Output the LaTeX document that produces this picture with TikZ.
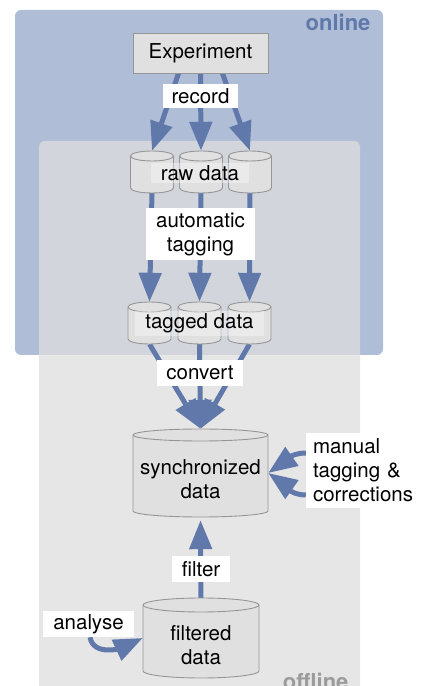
\documentclass[tikz,border=0pt]{standalone}
\usepackage{fontspec}
\setmainfont{TeX Gyre Heros}
\usetikzlibrary{arrows.meta,calc}
\pgfdeclarelayer{boxes}
\pgfdeclarelayer{arrowlayer}
\pgfdeclarelayer{cyllayer}
\pgfsetlayers{boxes,arrowlayer,cyllayer,main}

\definecolor{onlinefill}{RGB}{175,189,214}
\definecolor{offlinefill}{RGB}{222,222,222}
\definecolor{flowblue}{RGB}{96,121,170}
\definecolor{boxgray}{RGB}{224,224,224}
\definecolor{edgegray}{RGB}{150,150,150}
\definecolor{offlinetext}{RGB}{155,155,155}

\tikzset{
  txt/.style={font=\fontsize{20.5}{24}\selectfont},
  label/.style={txt, fill=white, inner sep=0pt, align=center},
  glasslabel/.style={txt, fill=white, fill opacity=0.35, text opacity=1, inner sep=0pt},
  flow/.style={draw=flowblue, line width=5pt,
    -{Triangle[width=22pt,length=29pt]}, color=flowblue},
  cylnode/.style={txt, inner sep=0pt, align=center},
  cylshape/.style={draw=edgegray, fill=boxgray, line width=0.9pt},
  areatitle/.style={font=\bfseries\fontsize{22}{26}\selectfont},
}

% cylinder: name, cx, cy, width, height, end radius, text
\newcommand\datacyl[7]{%
  \node[cylnode, minimum width=#4, minimum height=#5] (#1) at (#2,#3) {};
  \node[cylnode] (#1text) at (#2,{#3-#6}) {#7};
  \begin{pgfonlayer}{cyllayer}
    \filldraw[cylshape] ({#2-#4/2},{#3+#5/2-#6})
      -- ({#2-#4/2},{#3-#5/2+#6})
      arc[start angle=180,end angle=360,x radius={#4*0.5pt},y radius={#6*1pt}]
      -- ({#2+#4/2},{#3+#5/2-#6})
      arc[start angle=0,end angle=180,x radius={#4*0.5pt},y radius={#6*1pt}]
      -- cycle;
    \draw[cylshape, fill=none] ({#2-#4/2},{#3+#5/2-#6})
      arc[start angle=180,end angle=360,x radius={#4*0.5pt},y radius={#6*1pt}];
  \end{pgfonlayer}}

\begin{document}
\begin{tikzpicture}[x=1pt,y=1pt]
\useasboundingbox (0,0) rectangle (421,686);

% the two working areas
\begin{pgfonlayer}{boxes}
  \begin{scope}
    \clip (0,0) rectangle (421,686);
    \fill[onlinefill, rounded corners=6pt] (15,331) rectangle (383,676);
    \fill[offlinefill, fill opacity=0.76, rounded corners=6pt]
      (39,-20) rectangle (360,545);
    \node[areatitle, text=flowblue, anchor=base east] (onlinetitle) at (374,655) {online};
    \node[areatitle, text=offlinetext, anchor=base east] (offlinetitle) at (352,-3) {offline};
  \end{scope}
\end{pgfonlayer}

% sources and data stores
\node[txt, draw=edgegray, fill=boxgray, line width=0.9pt, minimum width=135,
      minimum height=40, inner sep=0pt] (exp) at (200.5,633) {Experiment};

\datacyl{r1}{152}{514}{43}{42}{5}{}
\datacyl{r2}{201}{514}{43}{42}{5}{}
\datacyl{r3}{250}{514}{43}{42}{5}{}

\datacyl{t1}{149.5}{363}{43}{42}{5}{}
\datacyl{t2}{199.5}{363}{43}{42}{5}{}
\datacyl{t3}{249.5}{363}{43}{42}{5}{}

\datacyl{sync}{200.5}{213}{135}{88}{6}{synchronized\\data}
\datacyl{filt}{201}{48}{116}{80}{7}{filtered\\data}

% flows
\begin{pgfonlayer}{arrowlayer}
  \draw[flow] ($(exp.south)+(-22,0)$) -- (r1.north);
  \draw[flow] (exp.south) -- (r2.north);
  \draw[flow] ($(exp.south)+(22,0)$) -- (r3.north);

  \draw[flow] (r1.south) -- (t1.north);
  \draw[flow] (r2.south) -- (t2.north);
  \draw[flow] (r3.south) -- (t3.north);

  \draw[flow] (t1.south) -- (sync.north);
  \draw[flow] (t2.south) -- (sync.north);
  \draw[flow] (t3.south) -- (sync.north);

  \draw[flow, shorten >=3pt] (filt.north) -- (sync.south);
\end{pgfonlayer}

% labels
\node[label, minimum width=75, minimum height=24] (record) at (200.5,590) {record};
\node[glasslabel, minimum width=98, minimum height=20] (rawlabel) at (200,513) {raw data};
\node[label, minimum width=109, minimum height=52] (auto) at (200.5,452) {automatic\\tagging};
\node[glasslabel, minimum width=129, minimum height=25] (taggedlabel) at (199.5,362.5) {tagged data};
\node[label, minimum width=86, minimum height=26] (convert) at (200,313) {convert};
\node[label, minimum width=58, minimum height=26] (filter) at (201,117) {filter};
\node[label, minimum width=91, minimum height=26] (analyse) at (88.5,62) {analyse};
\node[label, align=left, minimum width=115, minimum height=75, text width=101pt]
  (manual) at (363.5,215.5) {manual\\tagging \&\\corrections};

% feedback loops
\begin{pgfonlayer}{arrowlayer}
  \draw[flow] ($(manual.west)+(0,17.5)$) to[out=180,in=35] (sync.east);
  \draw[flow] ($(manual.west)+(0,-24.5)$) to[out=180,in=-35] (sync.east);
  \draw[flow] ($(analyse.south)+(1.5,0)$) to[out=-80,in=205] (filt.west);
\end{pgfonlayer}
\end{tikzpicture}
\end{document}
